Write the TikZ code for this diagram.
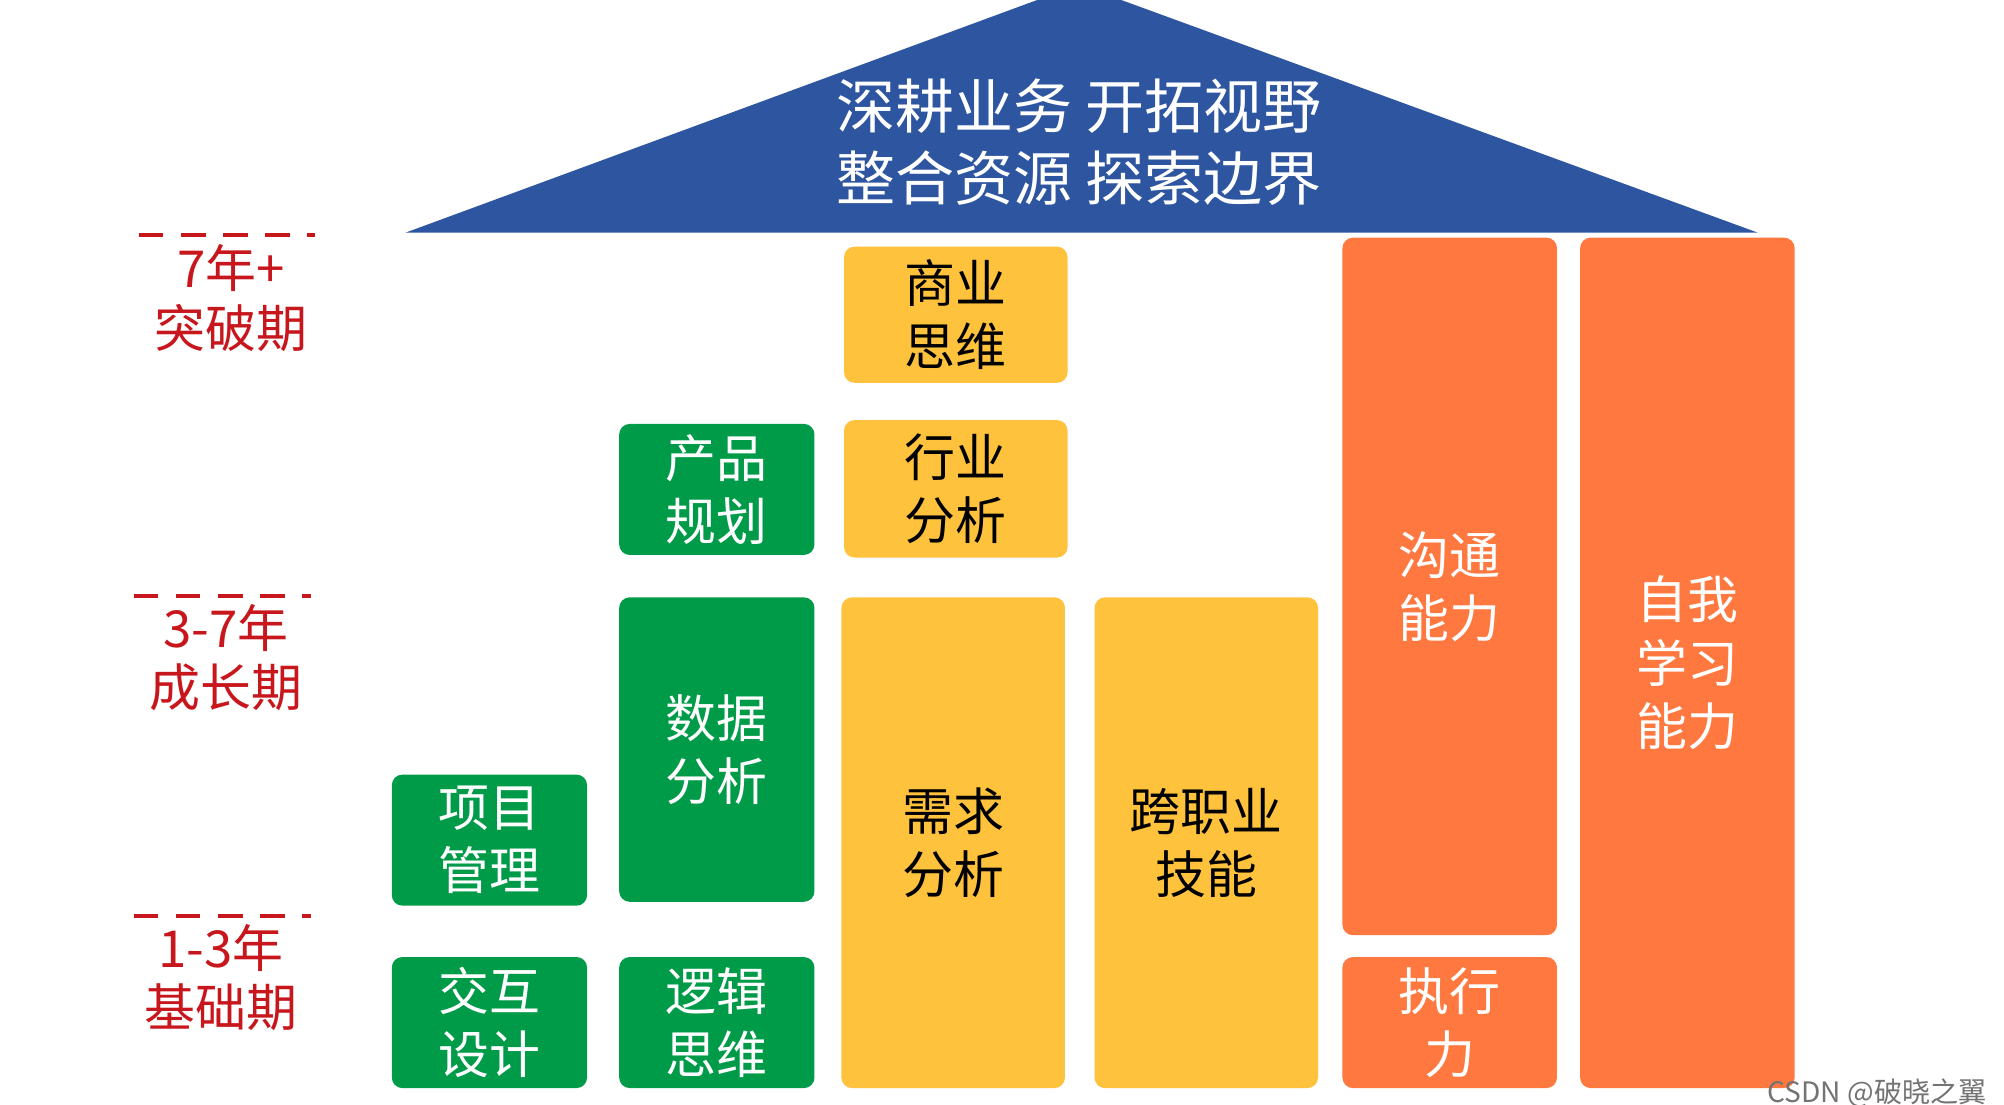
\documentclass[tikz,border=0pt]{standalone}
\usepackage{fontspec}
\setmainfont{Noto Sans CJK SC}
\usetikzlibrary{positioning}
\definecolor{roofblue}{HTML}{2E55A0}
\definecolor{bgreen}{HTML}{009B48}
\definecolor{byellow}{HTML}{FFC23D}
\definecolor{borange}{HTML}{FF7840}
\definecolor{stagered}{HTML}{C8161D}
% block: name, x1, y1, x2, y2, colour, text
\newcommand\blk[7]{%
  \node[blockbox, fill=#6, minimum width={(#4-#2)*0.01285cm}, minimum height={(#5-#3)*0.01285cm}]
    (#1) at ({(#2+#4)/2},{(#3+#5)/2}) {#7};}
\begin{document}
\begin{tikzpicture}[x=0.01285cm, y=-0.01285cm,
  blockbox/.style={rectangle, rounded corners=3pt, draw=none, inner sep=0pt,
    align=center, font=\fontsize{14.5}{18}\selectfont, text=black},
  wblock/.style={blockbox, text=white},
  stagetext/.style={text=stagered, align=center, font=\fontsize{14.5}{17}\selectfont},
  stageline/.style={stagered, line width=1.3pt, dash pattern=on 7pt off 5pt}]
\useasboundingbox (0,0) rectangle (1560,860);
\fill[white] (0,0) rectangle (1560,860);

% roof
\fill[roofblue] (316,181) -- (840,-12) -- (1368,181) -- cycle;
\node[text=white, align=center, font=\fontsize{16.8}{20.5}\selectfont] (roof) at (840,111)
  {深耕业务 开拓视野\\整合资源 探索边界};

% stages
\draw[stageline] (108,183) -- (245,183);
\node[stagetext] (s3) at (180,232) {7年+\\突破期};
\draw[stageline] (104,464) -- (242,464);
\node[stagetext] (s2) at (176,512) {3-7年\\成长期};
\draw[stageline] (104,713) -- (242,713);
\node[stagetext] (s1) at (172,761) {1-3年\\基础期};

% blocks
\tikzset{blockbox/.append style={text=black}}
\blk{biz}{657}{192}{831}{298}{byellow}{商业\\思维}
\blk{ind}{657}{327}{831}{434}{byellow}{行业\\分析}
\blk{req}{655}{465}{829}{847}{byellow}{需求\\分析}
\blk{cross}{852}{465}{1026}{847}{byellow}{跨职业\\技能}
\tikzset{blockbox/.append style={text=white}}
\blk{plan}{482}{330}{634}{432}{bgreen}{产品\\规划}
\blk{data}{482}{465}{634}{702}{bgreen}{数据\\分析}
\blk{pm}{305}{603}{457}{705}{bgreen}{项目\\管理}
\blk{ux}{305}{745}{457}{847}{bgreen}{交互\\设计}
\blk{logic}{482}{745}{634}{847}{bgreen}{逻辑\\思维}
\blk{comm}{1045}{185}{1212}{728}{borange}{沟通\\能力}
\blk{exec}{1045}{745}{1212}{847}{borange}{执行\\力}
\blk{self}{1230}{185}{1397}{847}{borange}{自我\\学习\\能力}

\node[text=black!55, font=\fontsize{8}{9}\selectfont, anchor=east] (mark) at (1556,851) {CSDN @破晓之翼};
\end{tikzpicture}
\end{document}
